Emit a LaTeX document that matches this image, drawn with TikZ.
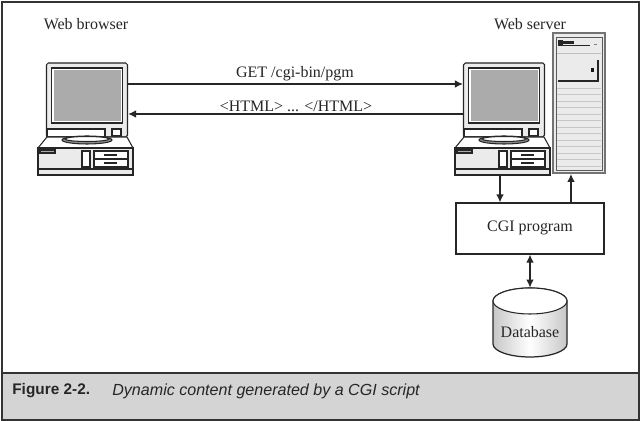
\documentclass[tikz,border=0pt]{standalone}
\usepackage{fontspec}
\usetikzlibrary{arrows.meta}
\setmainfont{Liberation Serif}
\setsansfont{Liberation Sans}
\definecolor{screengray}{HTML}{ABABAB}
\definecolor{panelgray}{HTML}{EBEBEB}
\definecolor{bandgray}{HTML}{D4D4D4}
\tikzset{
	ink/.style={draw=black!85, line width=0.6pt},
	link/.style={draw=black!85, line width=0.85pt, -{Latex[length=4.6pt,width=4.4pt]}},
	label/.style={inner sep=0pt, font=\fontsize{9.1}{11}\selectfont, text=black!85},
}
\newcommand{\computer}[2]{
	\begin{scope}[shift={(#2,0)}]
		\node[ink, fill=panelgray, minimum width=81*0.02cm, minimum height=74*0.02cm, inner sep=0pt, rounded corners=1pt] (#1mon) at (87,100) {};
		\draw[line width=1.1pt, draw=black!85, fill=white] (51.5,68) rectangle (122.5,123);
		\fill[screengray] (53.5,70) rectangle (120.5,121);
		\draw[ink, fill=white] (47,129) rectangle (105,137);
		\draw[ink, fill=white] (112,129) rectangle (121,136);
		\draw[ink, fill=white] (47,137) -- (127,137) -- (133,148) -- (38,148) -- cycle;
		\draw[ink, fill=black!45] (87,140) ellipse (25 and 4);
		\draw[ink, fill=white] (87,139) ellipse (22 and 2.5);
		\node[ink, fill=panelgray, minimum width=95*0.02cm, minimum height=27*0.02cm, inner sep=0pt] (#1base) at (85.5,161.5) {};
		\draw[line width=1.2pt, draw=black!85] (38,169) -- (133,169);
		\draw[ink, fill=screengray] (40,150) rectangle (55,153);
		\draw[ink, fill=white] (82,151) rectangle (90,167);
		\draw[line width=0.9pt, draw=black!85, fill=white] (94,151) rectangle (128,159);
		\draw[line width=0.9pt, draw=black!85, fill=white] (94,159) rectangle (128,167);
		\draw[line width=0.9pt, draw=black!85] (104,155) -- (117,155);
		\draw[line width=0.9pt, draw=black!85] (104,163) -- (117,163);
	\end{scope}
}
\begin{document}
\begin{tikzpicture}[x=0.02cm, y=-0.02cm]
	\useasboundingbox (0,0) rectangle (642,421);
	\fill[white] (0,0) rectangle (642,421);
	% frame and caption band
	\fill[bandgray] (2,373) rectangle (639,420);
	\draw[line width=0.7pt, draw=black!80] (2,2) rectangle (639,420);
	\draw[line width=1.1pt, draw=black!80] (2,373) -- (639,373);
	\node[anchor=west, inner sep=0pt, font=\sffamily\bfseries\fontsize{8.75}{10}\selectfont, text=black!85] (figno) at (12,391) {Figure 2-2.};
	\node[anchor=west, inner sep=0pt, font=\sffamily\itshape\fontsize{9.15}{11}\selectfont, text=black!85] (figtext) at (112,391) {Dynamic content generated by a CGI script};

	\computer{browser}{0}
	\computer{client}{417}
	\node[label] (browsertext) at (86,24) {Web browser};
	\node[label] (servertext) at (530,24) {Web server};

	% tower
	\node[draw=black!55, line width=1pt, fill=panelgray, minimum width=52*0.02cm, minimum height=140*0.02cm, inner sep=0pt] (tower) at (579,103) {};
	\draw[line width=0.5pt, draw=black!65] (556,37) rectangle (602,170);
	\fill[black!85] (558,40) rectangle (563,46);
	\fill[black!85] (563,41) rectangle (574,44);
	\draw[line width=0.5pt, draw=black!85] (563,45) -- (590,45);
	\draw[line width=0.5pt, draw=black!50] (594,44) -- (597,44);
	\draw[line width=0.5pt, draw=black!25] (557,53) -- (601,53);
	\draw[line width=0.8pt, draw=black!85] (598,60) -- (598,81) -- (558,81);
	\fill[black!90] (590.5,68) rectangle (594,72);
	\foreach \y in {88,94.5,...,166} {
		\draw[line width=0.5pt, draw=black!22] (557,\y) -- (601,\y);
	}

	% cgi box and database
	\node[ink, fill=white, minimum width=148*0.02cm, minimum height=51*0.02cm, inner sep=0pt] (cgi) at (530,228.5) {};
	\node[label] (cgitext) at (530,228) {CGI program};
	\path[left color=black!22, right color=black!22, middle color=white, draw=black!85, line width=0.7pt]
		(493,301) -- (493,344) arc[start angle=180, end angle=0, x radius=37, y radius=13] -- (567,301) arc[start angle=0, end angle=-180, x radius=37, y radius=13] -- cycle;
	\draw[ink, fill=white] (530,301) ellipse (37 and 13);
	\node[minimum width=74*0.02cm, minimum height=69*0.02cm, inner sep=0pt] (db) at (530,322.5) {};
	\node[label] (dbtext) at (530,332) {Database};

	% connectors
	\coordinate (getrow) at (0,84);
	\coordinate (htmlrow) at (0,114);
	\coordinate (downcol) at (500,0);
	\coordinate (upcol) at (571,0);
	\node[label] (gettext) at (295,74) {GET /cgi-bin/pgm};
	\node[label] (htmltext) at (296,106) {<HTML> ... </HTML>};
	\draw[link] (browsermon.east |- getrow) -- (clientmon.west |- getrow);
	\draw[link] (clientmon.west |- htmlrow) -- (browsermon.east |- htmlrow);
	\draw[link] (clientbase.south -| downcol) -- (cgi.north -| downcol);
	\draw[link] (cgi.north -| upcol) -- (tower.south -| upcol);
	\draw[link, {Latex[length=4.6pt,width=4.4pt]}-{Latex[length=4.6pt,width=4.4pt]}] (cgi.south) -- (db.north);
\end{tikzpicture}
\end{document}
